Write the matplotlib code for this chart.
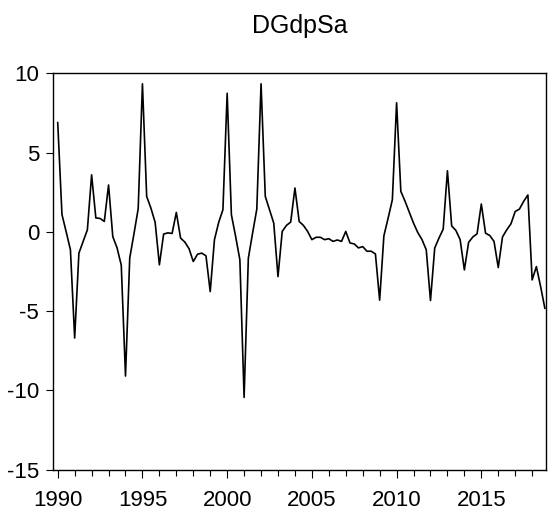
import numpy as np
import pandas as pd
import matplotlib
matplotlib.use("Agg")
from matplotlib import pyplot as plt
from matplotlib.ticker import MultipleLocator

plt.rcParams['font.family'] = ['Liberation Sans', 'DejaVu Sans']

title = "DGdpSa"
start = "1990Q1"

# quarterly values, 1990Q1 .. 2018Q4
dgdp = [6.9, 1.1, 0.0, -1.13, -6.7, -1.34, -0.6, 0.13,
        3.6, 0.88, 0.85, 0.66, 2.96, -0.3, -1.0, -2.1,
        -9.1, -1.65, -0.12, 1.47, 9.35, 2.24, 1.5, 0.6,
        -2.08, -0.14, -0.06, -0.1, 1.23, -0.39, -0.64, -1.06,
        -1.87, -1.41, -1.34, -1.51, -3.77, -0.49, 0.6, 1.4,
        8.75, 1.08, -0.29, -1.76, -10.45, -1.66, -0.08, 1.44,
        9.35, 2.24, 1.4, 0.55, -2.82, 0.03, 0.41, 0.62,
        2.77, 0.66, 0.41, 0.03, -0.49, -0.34, -0.34, -0.49,
        -0.43, -0.6, -0.51, -0.6, 0.03, -0.7, -0.76, -1.01,
        -0.93, -1.22, -1.22, -1.39, -4.31, -0.25, 0.87, 2.03,
        8.15, 2.56, 1.93, 1.24, 0.55, -0.04, -0.49, -1.13,
        -4.33, -1.02, -0.39, 0.17, 3.86, 0.38, 0.09, -0.49,
        -2.4, -0.66, -0.32, -0.12, 1.76, -0.08, -0.23, -0.6,
        -2.25, -0.32, 0.13, 0.51, 1.29, 1.44, 1.93, 2.33,
        -3.03, -2.19, -3.45, -4.82]

yticks = [-15, -10, -5, 0, 5, 10]
xticks = [1990, 1995, 2000, 2005, 2010, 2015]

q = pd.period_range(start, periods=len(dgdp), freq='Q')
t = q.year + (q.quarter - 1) / 4.0

fig = plt.figure(figsize=(5.53, 5.11), dpi=100)
ax = fig.add_axes([0.0958, 0.0812, 0.891, 0.775])

ax.plot(t, dgdp, color='black', lw=1.2)

ax.set_xlim(1989.72, 2018.80)
ax.set_ylim(-15, 10)
ax.set_yticks(yticks)
ax.set_yticklabels([str(v) for v in yticks])
ax.set_xticks(xticks)
ax.set_xticklabels([str(v) for v in xticks])
ax.xaxis.set_minor_locator(MultipleLocator(1))

ax.tick_params(axis='y', direction='out', length=5, width=0.8, pad=5, labelsize=16)
ax.tick_params(axis='x', which='major', direction='out', length=6, width=0.8, pad=9, labelsize=16)
ax.tick_params(axis='x', which='minor', direction='out', length=4, width=0.8)
for s in ax.spines.values():
    s.set_linewidth(1.0)

ax.set_title(title, fontsize=18, pad=29)

fig.savefig("out.png", dpi=100)
